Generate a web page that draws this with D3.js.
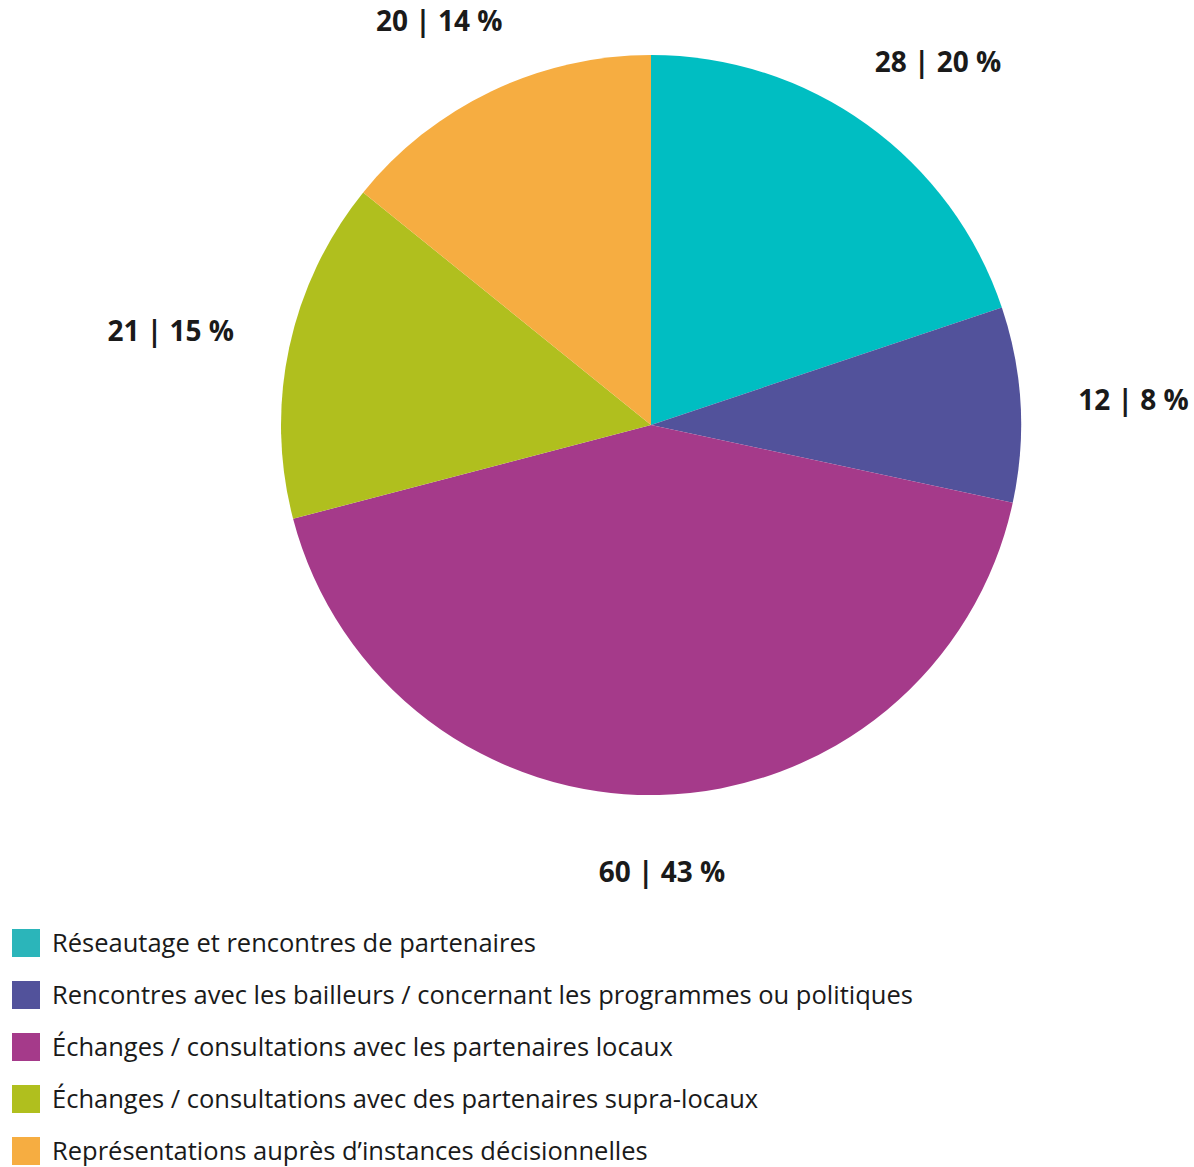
<!DOCTYPE html>
<html>
<head>
<meta charset="utf-8">
<script src="https://cdn.jsdelivr.net/npm/d3@7"></script>
<style>
  body { margin: 0; background: #fff; }
  svg text { font-family: "Open Sans", "Noto Sans", sans-serif; fill: #1a1a1a; }
</style>
</head>
<body>
<div id="chart"></div>
<script>
// categories and values
var categories = [
  "Réseautage et rencontres de partenaires",
  "Rencontres avec les bailleurs / concernant les programmes ou politiques",
  "Échanges / consultations avec les partenaires locaux",
  "Échanges / consultations avec des partenaires supra-locaux",
  "Représentations auprès d’instances décisionnelles"
];
var counts = [28, 12, 60, 21, 20];
var percents = [20, 8, 43, 15, 14];
var colors = ["#00bec2", "#52529b", "#a53a8a", "#b0bf1e", "#f6ad41"];
var legendColors = ["#2bb5ba", "#52529b", "#a53a8a", "#b0bf1e", "#f6ad41"];

var W = 1194, H = 1167;
var cx = 651, cy = 425, radius = 370;

var svg = d3.select("#chart").append("svg")
    .attr("width", W)
    .attr("height", H);

var data = counts.map(function(d, i) {
    return {name: categories[i], value: d, pct: percents[i], color: colors[i]};
});

var pie = d3.pie().sort(null).value(function(d) { return d.value; });
var arc = d3.arc().innerRadius(0).outerRadius(radius);
var arcs = pie(data);

var g = svg.append("g").attr("transform", "translate(" + cx + "," + cy + ")");

g.selectAll("path.slice")
    .data(arcs)
    .enter().append("path")
    .attr("class", "slice")
    .attr("d", arc)
    .style("fill", function(d) { return d.data.color; });

// labels outside the pie, pushed out so the box sits beyond the edge
var labelR = 428;
var labels = g.selectAll("text.lbl")
    .data(arcs)
    .enter().append("text")
    .attr("class", "lbl")
    .style("font-size", "28px")
    .style("font-weight", "bold")
    .attr("text-anchor", "middle")
    .attr("dy", "0.35em")
    .text(function(d) { return d.data.value + " | " + d.data.pct + " %"; });

labels.each(function(d) {
    var a = (d.startAngle + d.endAngle) / 2;
    var bb = this.getBBox();
    var x = Math.sin(a) * labelR + bb.width / 2 * Math.sin(a);
    var y = -Math.cos(a) * labelR - bb.height / 2 * Math.cos(a);
    d3.select(this).attr("x", x).attr("y", y);
});

// legend
var legend = svg.append("g").attr("transform", "translate(12,929)");
var row = 52;

legend.selectAll("rect")
    .data(categories)
    .enter().append("rect")
    .attr("x", 0)
    .attr("y", function(d, i) { return i * row; })
    .attr("width", 28)
    .attr("height", 28)
    .style("fill", function(d, i) { return legendColors[i]; });

legend.selectAll("text")
    .data(categories)
    .enter().append("text")
    .attr("x", 40)
    .attr("y", function(d, i) { return i * row + 14; })
    .attr("dy", "0.35em")
    .style("font-size", "25.5px")
    .text(function(d) { return d; });
</script>
</body>
</html>
